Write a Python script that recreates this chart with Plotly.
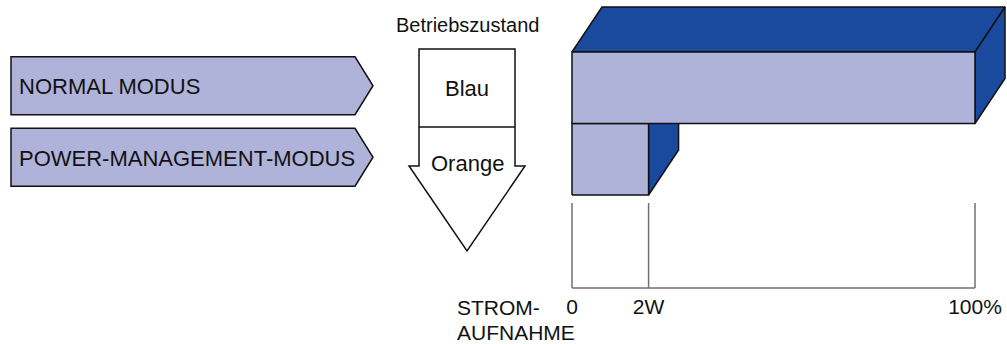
import plotly.graph_objects as go

# data
modes = ["NORMAL MODUS", "POWER-MANAGEMENT-MODUS"]
states = ["Blau", "Orange"]
power = [100, 19]          # relative power draw (100% vs. about 2W)
tick_vals = [0, 19, 100]
tick_text = ["0", "2W", "100%"]

# colours / sizes
LIGHT = "#b0b3d9"
DARK = "#1a4a9e"
EDGE = "#111111"
GRID = "#707070"
FONT = "Liberation Sans, Arial, sans-serif"

W, H = 1007, 344
X0, PX_PER_PCT = 572, 4.03      # where 0 sits and px per percent
Y0, PX_PER_ROW = 195, 71.5      # bottom of the lowest bar, bar height
DX = 30 / PX_PER_PCT            # 3d depth
DY = 45 / PX_PER_ROW


def px_x(p):
    return (p - X0) / PX_PER_PCT


def px_y(p):
    return (Y0 - p) / PX_PER_ROW


def path(points):
    pts = ["%s %.4f,%.4f" % ("M" if i == 0 else "L", px_x(a), px_y(b))
           for i, (a, b) in enumerate(points)]
    return " ".join(pts) + " Z"


fig = go.Figure()


def poly(xs, ys, color):
    fig.add_trace(go.Scatter(x=xs + [xs[0]], y=ys + [ys[0]], mode="lines",
                             fill="toself", fillcolor=color,
                             line=dict(color=EDGE, width=1.5),
                             hoverinfo="skip"))


# bars, lowest row first so the upper bar covers its hidden faces
n = len(modes)
for i in reversed(range(n)):
    v = power[i]
    yb = n - 1 - i
    yt = yb + 1
    poly([0, v, v + DX, DX], [yt, yt, yt + DY, yt + DY], DARK)          # top
    poly([v, v + DX, v + DX, v], [yb, yb + DY, yt + DY, yt], DARK)      # side
    poly([0, v, v, 0], [yb, yb, yt, yt], LIGHT)                          # front

# axis: vertical guide lines and baseline
y_top, y_base = px_y(203), px_y(288)
for t in tick_vals:
    fig.add_trace(go.Scatter(x=[t, t], y=[y_top, y_base], mode="lines",
                             line=dict(color=GRID, width=1.5), hoverinfo="skip"))
fig.add_trace(go.Scatter(x=[tick_vals[0], tick_vals[-1]], y=[y_base, y_base],
                         mode="lines", line=dict(color=GRID, width=1.5),
                         hoverinfo="skip"))
fig.add_trace(go.Scatter(x=tick_vals, y=[px_y(309)] * len(tick_vals),
                         mode="text", text=tick_text,
                         textfont=dict(family=FONT, size=21, color="#111"),
                         hoverinfo="skip"))

shapes = []
annotations = []

# mode labels in pentagon arrows
for i, m in enumerate(modes):
    yc = Y0 - (n - 1 - i + 0.5) * PX_PER_ROW - 2
    shapes.append(dict(type="path", xref="x", yref="y",
                       path=path([(11, yc - 29), (355, yc - 29), (373, yc),
                                  (355, yc + 29), (11, yc + 29)]),
                       fillcolor=LIGHT, line=dict(color=EDGE, width=1.5),
                       layer="below"))
    annotations.append(dict(x=px_x(17), y=px_y(yc + 1), text=m, xanchor="left",
                            font=dict(size=22)))

# state arrow (Blau -> Orange)
shapes.append(dict(type="path", xref="x", yref="y",
                   path=path([(419, 49), (515, 49), (515, 166), (525, 166),
                              (467, 251), (409, 166), (419, 166)]),
                   fillcolor="white", line=dict(color=EDGE, width=1.5),
                   layer="below"))
shapes.append(dict(type="line", xref="x", yref="y",
                   x0=px_x(419), x1=px_x(515), y0=px_y(127), y1=px_y(127),
                   line=dict(color=EDGE, width=1.5)))
annotations.append(dict(x=px_x(467), y=px_y(25), text="Betriebszustand",
                        font=dict(size=20)))
annotations.append(dict(x=px_x(467), y=px_y(88), text=states[0], font=dict(size=22)))
annotations.append(dict(x=px_x(467), y=px_y(163), text=states[1], font=dict(size=22)))

# axis title
annotations.append(dict(x=px_x(455), y=px_y(307), text="STROM-", xanchor="left"))
annotations.append(dict(x=px_x(455), y=px_y(332), text="AUFNAHME", xanchor="left"))

for a in annotations:
    a.setdefault("xref", "x")
    a.setdefault("yref", "y")
    a.setdefault("showarrow", False)
    a.setdefault("font", dict(size=21))
    a["font"] = dict(family=FONT, color="#111", **a["font"])

fig.update_layout(
    width=W, height=H,
    margin=dict(l=0, r=0, t=0, b=0),
    paper_bgcolor="white", plot_bgcolor="white",
    showlegend=False,
    xaxis=dict(range=[px_x(0), px_x(W)], visible=False, fixedrange=True),
    yaxis=dict(range=[px_y(H), px_y(0)], visible=False, fixedrange=True),
    shapes=shapes, annotations=annotations,
)

# drop the browser's default page margin so the figure fills the window
fig.write_html("out.html", config={"displayModeBar": False},
               post_script="document.body.style.margin='0';")
